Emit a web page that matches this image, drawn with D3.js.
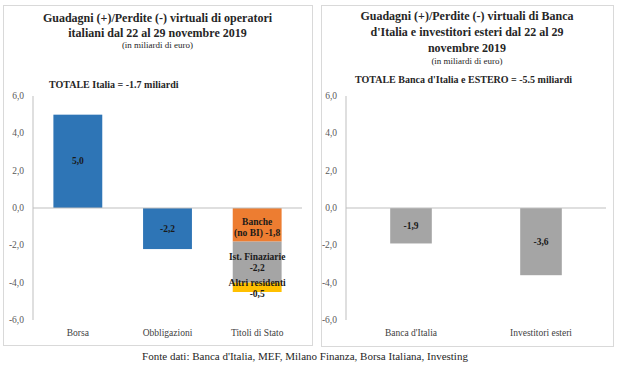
<!DOCTYPE html>
<html>
<head>
<meta charset="utf-8">
<title>Guadagni/Perdite virtuali</title>
<script src="https://d3js.org/d3.v7.min.js"></script>
<style type="text/css">
  body { margin: 0; background: #fff; }
  svg text { font-family: "Liberation Serif", "Times New Roman", serif; fill: #262626; }
  .title { font-weight: bold; font-size: 12px; }
  .sub { font-size: 9px; }
  .totale { font-weight: bold; font-size: 10px; }
  .tick-label { font-size: 9.5px; fill: #595959; }
  .cat-label { font-size: 9.5px; fill: #404040; }
  .bar-label { font-weight: bold; font-size: 9.5px; fill: #1a1a1a; }
  .panel { fill: none; stroke: #d9d9d9; stroke-width: 1; }
  .axis-line { stroke: #bfbfbf; stroke-width: 1; }
</style>
</head>
<body>
<script type="text/javascript">

// data
var leftCategories = ["Borsa", "Obbligazioni", "Titoli di Stato"];
var leftValues = [5.0, -2.2, null];
var stackSeries = ["Banche|(no BI) -1,8", "Ist. Finaziarie|-2,2", "Altri residenti|-0,5"];
var stackValues = [-1.8, -2.2, -0.5];
var stackColors = ["#ED7D31", "#A5A5A5", "#FFC000"];
var rightCategories = ["Banca d'Italia", "Investitori esteri"];
var rightValues = [-1.9, -3.6];
var yTicks = [6, 4, 2, 0, -2, -4, -6];

var fmt = d3.formatLocale({decimal: ",", thousands: ".", grouping: [3], currency: ["", "€"], minus: "-"}).format(".1f");

var svg = d3.select("body").append("svg")
  .attr("width", 640)
  .attr("height", 371);

function drawPanel(opt) {
  var g = svg.append("g");

  g.append("rect").attr("class", "panel")
    .attr("x", opt.box[0] + 0.5).attr("y", opt.box[1] + 0.5)
    .attr("width", opt.box[2]).attr("height", opt.box[3]);

  var cx = opt.box[0] + opt.box[2] / 2;
  opt.title.forEach(function(t, i) {
    g.append("text").attr("class", "title")
      .attr("x", cx).attr("y", opt.titleY[i])
      .attr("text-anchor", "middle").text(t);
  });
  g.append("text").attr("class", "sub")
    .attr("x", cx).attr("y", opt.subY)
    .attr("text-anchor", "middle").text("(in miliardi di euro)");
  g.append("text").attr("class", "totale")
    .attr("x", opt.totX).attr("y", opt.totY).text(opt.totale);

  var y = d3.scaleLinear().domain([-6, 6]).range([320, 96]);
  var x = d3.scaleBand().domain(opt.categories)
    .range([opt.x0, opt.x1]).paddingInner(opt.pad).paddingOuter(opt.pad / 2);

  // y axis
  g.append("line").attr("class", "axis-line")
    .attr("x1", opt.x0).attr("x2", opt.x0)
    .attr("y1", y(6)).attr("y2", y(-6));
  g.selectAll("text.tick-label").data(yTicks).enter()
    .append("text").attr("class", "tick-label")
    .attr("x", opt.x0 - 9).attr("y", function(d) { return y(d) + 3; })
    .attr("text-anchor", "end")
    .text(function(d) { return fmt(d); });

  // bars
  var bars = opt.categories.map(function(c, i) { return {c: c, v: opt.values[i]}; })
    .filter(function(d) { return d.v != null; });
  g.selectAll("rect.bar").data(bars).enter()
    .append("rect").attr("class", "bar")
    .attr("x", function(d) { return x(d.c); })
    .attr("width", x.bandwidth())
    .attr("y", function(d) { return y(Math.max(0, d.v)); })
    .attr("height", function(d) { return Math.abs(y(d.v) - y(0)); })
    .attr("fill", opt.color);
  g.selectAll("text.bar-label").data(bars).enter()
    .append("text").attr("class", "bar-label")
    .attr("x", function(d) { return x(d.c) + x.bandwidth() / 2; })
    .attr("y", function(d) { return (y(d.v) + y(0)) / 2 + 3; })
    .attr("text-anchor", "middle")
    .text(function(d) { return fmt(d.v); });

  // stacked bar
  if (opt.stack) {
    var ends = d3.cumsum(stackValues);
    var segs = stackValues.map(function(v, i) {
      return {name: stackSeries[i], v0: ends[i] - v, v1: ends[i], color: stackColors[i]};
    });
    var sc = opt.categories[2];
    g.selectAll("rect.seg").data(segs).enter()
      .append("rect").attr("class", "seg")
      .attr("x", x(sc)).attr("width", x.bandwidth())
      .attr("y", function(d) { return y(d.v0); })
      .attr("height", function(d) { return y(d.v1) - y(d.v0); })
      .attr("fill", function(d) { return d.color; });
    var labY = [[222, 233], [257, 268], [283, 294]];
    segs.forEach(function(d, i) {
      d.name.split("|").forEach(function(t, j) {
        g.append("text").attr("class", "bar-label")
          .attr("x", x(sc) + x.bandwidth() / 2).attr("y", labY[i][j] + 3)
          .attr("text-anchor", "middle").text(t);
      });
    });
  }

  // zero line
  g.append("line").attr("class", "axis-line")
    .attr("x1", opt.x0).attr("x2", opt.x1)
    .attr("y1", y(0)).attr("y2", y(0));

  g.selectAll("text.cat-label").data(opt.categories).enter()
    .append("text").attr("class", "cat-label")
    .attr("x", function(d) { return x(d) + x.bandwidth() / 2; })
    .attr("y", 336)
    .attr("text-anchor", "middle")
    .text(function(d) { return d; });
}

drawPanel({
  box: [3, 5, 309, 340],
  title: ["Guadagni (+)/Perdite (-) virtuali di operatori", "italiani dal 22 al 29 novembre 2019"],
  titleY: [22, 37],
  subY: 48,
  totale: "TOTALE Italia = -1.7 miliardi",
  totX: 49, totY: 88,
  categories: leftCategories,
  values: leftValues,
  color: "#2E75B6",
  stack: true,
  x0: 33, x1: 302, pad: 0.455
});

drawPanel({
  box: [321, 5, 292, 341],
  title: ["Guadagni (+)/Perdite (-) virtuali di Banca", "d'Italia e investitori esteri dal 22 al 29", "novembre 2019"],
  titleY: [20, 36, 52],
  subY: 64,
  totale: "TOTALE Banca d'Italia e ESTERO = -5.5 miliardi",
  totX: 355, totY: 83,
  categories: rightCategories,
  values: rightValues,
  color: "#A5A5A5",
  stack: false,
  x0: 346, x1: 606, pad: 0.68
});

svg.append("text")
  .attr("x", 305).attr("y", 360)
  .attr("text-anchor", "middle")
  .style("font-size", "11px")
  .text("Fonte dati: Banca d'Italia, MEF, Milano Finanza, Borsa Italiana, Investing");

</script>
</body>
</html>
